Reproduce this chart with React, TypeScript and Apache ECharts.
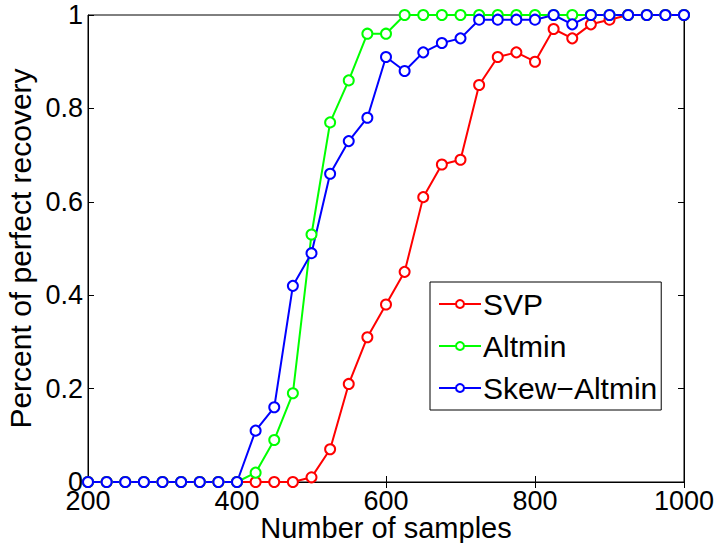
import React, { useEffect, useRef } from "react";
import * as echarts from "echarts";

const samples = [200, 225, 250, 275, 300, 325, 350, 375, 400, 425, 450, 475, 500, 525, 550, 575, 600, 625, 650, 675, 700, 725, 750, 775, 800, 825, 850, 875, 900, 925, 950, 975, 1000];

const svp = [0, 0, 0, 0, 0, 0, 0, 0, 0, 0, 0, 0, 0.01, 0.07, 0.21, 0.31, 0.38, 0.45, 0.61, 0.68, 0.69, 0.85, 0.91, 0.92, 0.90, 0.97, 0.95, 0.98, 0.99, 1, 1, 1, 1];
const altmin = [0, 0, 0, 0, 0, 0, 0, 0, 0, 0.02, 0.09, 0.19, 0.53, 0.77, 0.86, 0.96, 0.96, 1, 1, 1, 1, 1, 1, 1, 1, 1, 1, 1, 1, 1, 1, 1, 1];
const skewAltmin = [0, 0, 0, 0, 0, 0, 0, 0, 0, 0.11, 0.16, 0.42, 0.49, 0.66, 0.73, 0.78, 0.91, 0.88, 0.92, 0.94, 0.95, 0.99, 0.99, 0.99, 0.99, 1, 0.98, 1, 1, 1, 1, 1, 1];

const seriesNames = ["SVP", "Altmin", "Skew\u2212Altmin"];
const seriesColors = ["#ff0000", "#00ff00", "#0000ff"];
const seriesData = [svp, altmin, skewAltmin];

const FONT = "'Liberation Sans', Arial, Helvetica, sans-serif";

export default function App() {
  const ref = useRef<HTMLDivElement>(null);
  useEffect(() => {
    if (!ref.current) return;
    const chart = echarts.init(ref.current, null, { renderer: "svg" });
    const tickStyle = { show: true, inside: true, length: 6, lineStyle: { color: "#000", width: 1 } };
    chart.setOption({
      animation: false,
      backgroundColor: "#fff",
      textStyle: { fontFamily: FONT },
      grid: {
        left: 88, right: 32, top: 15, bottom: 61,
        containLabel: false, outerBoundsMode: "none",
        show: true, borderColor: "#000", borderWidth: 1, backgroundColor: "transparent",
      },
      xAxis: [
        {
          type: "value", min: 200, max: 1000, interval: 200,
          axisLine: { show: true, lineStyle: { color: "#000", width: 1 } },
          axisTick: tickStyle,
          splitLine: { show: false },
          axisLabel: { color: "#000", fontSize: 27, lineHeight: 22, fontFamily: FONT, margin: 8, formatter: (v: number) => String(v) },
          name: "Number of samples", nameLocation: "middle", nameGap: 31, nameMoveOverlap: false,
          nameTextStyle: { color: "#000", fontSize: 29, lineHeight: 29, fontFamily: FONT },
        },
        {
          type: "value", position: "top", min: 200, max: 1000, interval: 200,
          axisLine: { show: true, lineStyle: { color: "#000", width: 1 } },
          axisTick: tickStyle, axisLabel: { show: false }, splitLine: { show: false },
        },
      ],
      yAxis: [
        {
          type: "value", min: 0, max: 1, interval: 0.2,
          axisLine: { show: true, lineStyle: { color: "#000", width: 1 } },
          axisTick: tickStyle,
          splitLine: { show: false },
          axisLabel: { color: "#000", fontSize: 27, fontFamily: FONT, margin: 5, formatter: (v: number) => String(Math.round(v * 10) / 10) },
          name: "Percent of perfect recovery", nameLocation: "middle", nameGap: 53, nameMoveOverlap: false,
          nameTextStyle: { color: "#000", fontSize: 30, fontFamily: FONT },
        },
        {
          type: "value", position: "right", min: 0, max: 1, interval: 0.2,
          axisLine: { show: true, lineStyle: { color: "#000", width: 1 } },
          axisTick: tickStyle, axisLabel: { show: false }, splitLine: { show: false },
        },
      ],
      legend: {
        orient: "vertical", left: 430, top: 282,
        borderColor: "#000", borderWidth: 1, backgroundColor: "#fff",
        padding: [6, 4, 6, 8], itemGap: 10, itemWidth: 42, itemHeight: 10,
        textStyle: { color: "#000", fontSize: 30, fontFamily: FONT, lineHeight: 32, padding: [0, 0, 0, -3] },
        data: seriesNames,
      },
      series: seriesNames.map((name, i) => ({
        name, type: "line",
        data: samples.map((x, j) => [x, seriesData[i][j]]),
        symbol: "emptyCircle", symbolSize: 10,
        lineStyle: { color: seriesColors[i], width: 2 },
        itemStyle: { color: seriesColors[i], borderColor: seriesColors[i], borderWidth: 2 },
        emphasis: { disabled: true },
      })),
    });
    return () => chart.dispose();
  }, []);
  return <div ref={ref} style={{ width: 716, height: 543, position: "absolute", left: 0, top: 0 }} />;
}
